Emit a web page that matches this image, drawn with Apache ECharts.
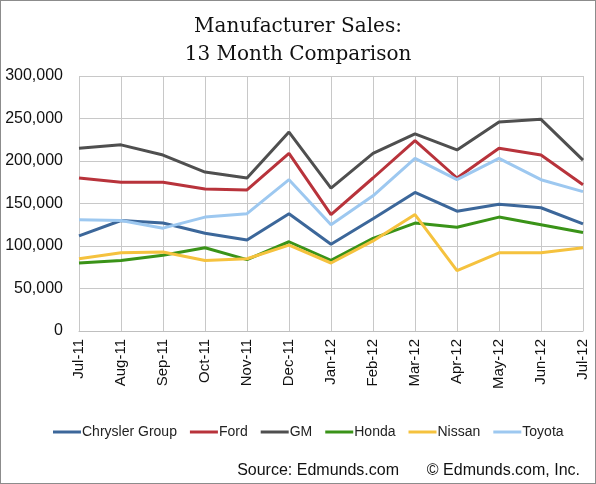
<!DOCTYPE html>
<html><head><meta charset="utf-8">
<script src="https://cdn.jsdelivr.net/npm/echarts@6/dist/echarts.min.js"></script>
<style>
html,body{margin:0;padding:0;background:#fff;}
#c{width:596px;height:484px;box-sizing:border-box;border:1px solid #8c8c8c;}
</style></head>
<body><div id="c"></div>
<script>
const months = ['Jul-11','Aug-11','Sep-11','Oct-11','Nov-11','Dec-11','Jan-12','Feb-12','Mar-12','Apr-12','May-12','Jun-12','Jul-12'];
const chrysler = [112000,130000,127000,115000,107000,138000,102000,132000,163000,141000,149000,145000,126000];
const ford     = [180000,175000,175000,167000,166000,209000,137000,180000,224000,180000,215000,207000,172000];
const gm       = [215000,219000,207000,187000,180000,234000,168000,209000,232000,213000,246000,249000,201000];
const honda    = [80000,83000,89000,98000,84000,105000,83000,109000,127000,122000,134000,125000,116000];
const nissan   = [85000,92000,93000,83000,85000,101000,80000,106000,137000,71000,92000,92000,98000];
const toyota   = [131000,130000,121000,134000,138000,178000,125000,159000,203000,178000,203000,178000,164000];
const seriesNames = ['Chrysler Group','Ford','GM','Honda','Nissan','Toyota'];
const seriesData = [chrysler, ford, gm, honda, nissan, toyota];
const colors = ['#3c679a','#b8333b','#4f4f4f','#3a9318','#f5c23e','#9dc8f0'];

const chart = echarts.init(document.getElementById('c'), null, {renderer:'canvas'});
chart.setOption({
  animation:false,
  color: colors,
  title:{
    text:'Manufacturer Sales:\n13 Month Comparison',
    left:'center', top:7,
    textStyle:{fontFamily:'DejaVu Serif', fontSize:20, fontWeight:'normal', color:'#111', lineHeight:28}
  },
  grid:{left:78, right:12, top:75, bottom:152},
  legend:{
    bottom:39, left:47,
    itemWidth:28, itemHeight:3, itemGap:13,
    icon:'rect',
    textStyle:{fontFamily:'Liberation Sans', fontSize:14, color:'#222', padding:[0,0,0,-4]},
    data: seriesNames
  },
  graphic:[
    {type:'text', right:196, bottom:4,
     style:{text:'Source: Edmunds.com', font:'16px Liberation Sans', fill:'#111'}},
    {type:'text', right:15, bottom:4,
     style:{text:'\u00a9 Edmunds.com, Inc.', font:'16px Liberation Sans', fill:'#111'}}
  ],
  xAxis:{
    type:'category', data:months, boundaryGap:false,
    axisLine:{lineStyle:{color:'#bfbfbf'}},
    axisTick:{show:false},
    splitLine:{show:true, lineStyle:{color:'#c8c8c8'}},
    axisLabel:{rotate:90, fontFamily:'Liberation Sans', fontSize:15, color:'#111', margin:8}
  },
  yAxis:{
    type:'value', min:0, max:300000, interval:50000,
    axisLine:{show:false}, axisTick:{show:false},
    splitLine:{lineStyle:{color:'#c8c8c8'}},
    axisLabel:{fontFamily:'Liberation Sans', fontSize:16, color:'#111', margin:16,
      formatter:v=>v.toLocaleString('en-US')}
  },
  series: seriesNames.map((n,i)=>({
    name:n, type:'line', data:seriesData[i], symbol:'none',
    lineStyle:{width:3}
  }))
});
</script></body></html>
